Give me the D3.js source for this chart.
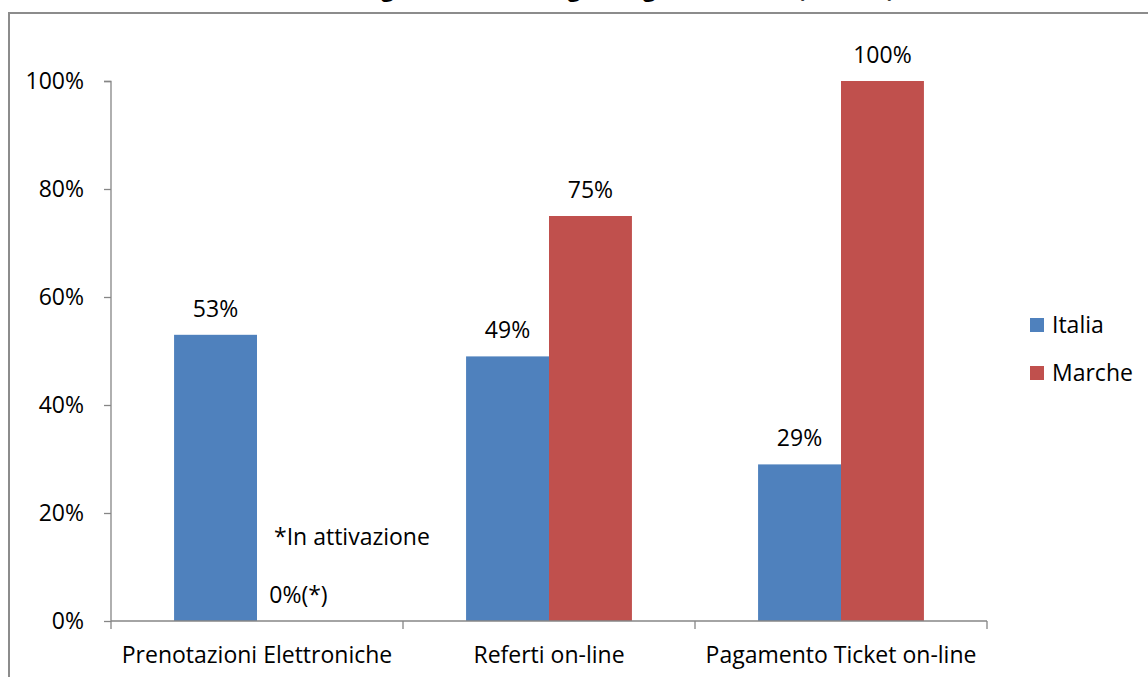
<!DOCTYPE html>
<html>
<head>
<meta charset="utf-8">
<script src="https://cdn.jsdelivr.net/npm/d3@7"></script>
<style>
  body { margin: 0; background: #fff; }
  svg { display: block; font-family: 'Open Sans', sans-serif; }
</style>
</head>
<body>
<div id="chart"></div>
<script>
let categories = ['Prenotazioni Elettroniche', 'Referti on-line', 'Pagamento Ticket on-line']
let seriesNames = ['Italia', 'Marche']
let italia = [53, 49, 29]
let marche = [0, 75, 100]
let valueLabels = [['53%', '0%(*)'], ['49%', '75%'], ['29%', '100%']]
let yTicks = [0, 20, 40, 60, 80, 100]
let colors = ['#4f81bd', '#c0504d']

let width = 1148
let height = 677
let margin = { top: 81, left: 111, right: 161, bottom: 56 }
let fontSize = 23

let svg = d3.select('#chart')
  .append('svg')
  .attr('width', width)
  .attr('height', height)

// frame of the chart box (cut off on the right and bottom)
svg.append('path')
  .attr('d', `M9,${height + 2} L9,13 L${width + 2},13`)
  .attr('fill', 'none')
  .attr('stroke', '#8c8c8c')
  .attr('stroke-width', 2)

// title, only its bottom edge shows
svg.append('text')
  .text('Sanità digitale: servizi erogati Regione Marche (2012, %)')
  .attr('x', 590)
  .attr('y', -3)
  .attr('text-anchor', 'middle')
  .attr('font-weight', 'bold')
  .attr('font-size', 22)
  .attr('fill', '#000')

let plotW = width - margin.left - margin.right
let plotH = height - margin.top - margin.bottom

let g = svg.append('g')
  .attr('transform', `translate(${margin.left},${margin.top})`)

let x0 = d3.scaleBand().domain(categories).range([0, plotW]).padding(0)
let x1 = d3.scaleBand().domain(seriesNames)
  .range([x0.bandwidth() * 0.216, x0.bandwidth() * 0.784])
let y = d3.scaleLinear().domain([0, 100]).range([plotH, 0])

let rows = categories.map((c, i) => ({
  key: c,
  values: [
    { name: 'Italia', value: italia[i], label: valueLabels[i][0] },
    { name: 'Marche', value: marche[i], label: valueLabels[i][1] }
  ]
}))

// y axis
let yAxis = g.append('g')
  .call(d3.axisLeft(y).tickValues(yTicks).tickSize(7).tickPadding(20)
    .tickFormat(d => d + '%'))
yAxis.select('.domain').attr('stroke', '#868686').attr('stroke-width', 1.3)
  .attr('d', `M-7,0.5H0V${plotH}`)
yAxis.selectAll('line').attr('stroke', '#868686').attr('stroke-width', 1.3)
yAxis.selectAll('text').attr('font-size', fontSize).attr('fill', '#000')
  .attr('font-family', "'Open Sans', sans-serif")

let groups = g.selectAll('.cat')
  .data(rows)
  .enter()
  .append('g')
  .attr('class', 'cat')
  .attr('transform', d => `translate(${x0(d.key)},0)`)

groups.selectAll('rect')
  .data(d => d.values)
  .enter()
  .append('rect')
  .attr('x', d => x1(d.name))
  .attr('width', x1.bandwidth())
  .attr('y', d => y(d.value))
  .attr('height', d => plotH - y(d.value))
  .attr('fill', (d, i) => colors[i])

groups.selectAll('.lbl')
  .data(d => d.values)
  .enter()
  .append('text')
  .attr('class', 'lbl')
  .text(d => d.label)
  .attr('x', d => x1(d.name) + x1.bandwidth() / 2)
  .attr('y', d => y(d.value) - 18)
  .attr('text-anchor', 'middle')
  .attr('font-size', fontSize)
  .attr('fill', '#000')

// annotation for the zero bar
g.append('text')
  .text('*In attivazione')
  .attr('x', x0(categories[0]) + x1('Marche') + 17)
  .attr('y', y(16) + 10)
  .attr('font-size', fontSize)
  .attr('fill', '#000')

// x axis
let xAxis = g.append('g')
  .attr('transform', `translate(0,${plotH})`)
  .call(d3.axisBottom(x0).tickSize(0).tickPadding(26))
xAxis.select('.domain').attr('stroke', '#868686').attr('stroke-width', 1.3)
  .attr('d', `M0,0H${plotW}`)
xAxis.selectAll('text').attr('font-size', fontSize).attr('fill', '#000')
  .attr('font-family', "'Open Sans', sans-serif")
xAxis.selectAll('.sep')
  .data([0].concat(categories.map(c => x0(c) + x0.bandwidth())))
  .enter()
  .append('line')
  .attr('class', 'sep')
  .attr('x1', d => d).attr('x2', d => d)
  .attr('y1', 0).attr('y2', 8)
  .attr('stroke', '#868686').attr('stroke-width', 1.3)

// legend
let legend = svg.append('g')
  .attr('transform', 'translate(1030,318)')
  .selectAll('g')
  .data(seriesNames)
  .enter()
  .append('g')
  .attr('transform', (d, i) => `translate(0,${i * 48})`)

legend.append('rect')
  .attr('width', 14)
  .attr('height', 14)
  .attr('fill', (d, i) => colors[i])

legend.append('text')
  .text(d => d)
  .attr('x', 22)
  .attr('y', 15)
  .attr('font-size', fontSize)
  .attr('fill', '#000')
</script>
</body>
</html>
